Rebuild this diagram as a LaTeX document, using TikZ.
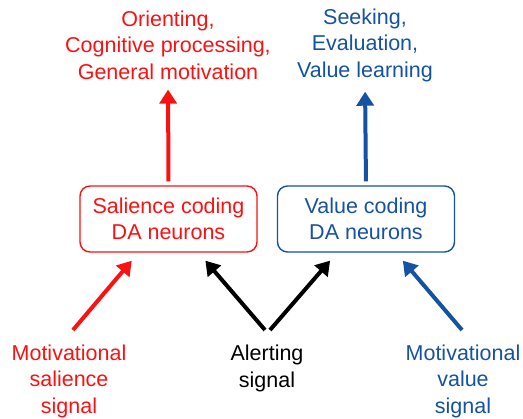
\documentclass[tikz,border=0pt]{standalone}
\usepackage{fontspec}
\setmainfont{Liberation Sans}
\usepackage{tikz}
\usetikzlibrary{arrows.meta, positioning}

\definecolor{salred}{RGB}{250,18,18}
\definecolor{valblue}{RGB}{22,82,162}

\begin{document}
\begin{tikzpicture}[x=1pt, y=-1pt,
  label/.style={align=center, inner sep=0pt,
    font=\fontsize{21.5}{26.5}\selectfont},
  %
  neurons/.style={rectangle, rounded corners=10pt, line width=1.4pt,
    minimum width=177pt, minimum height=66pt, align=center,
    font=\fontsize{21.5}{26.5}\selectfont},
  %
  sig/.style={line width=4pt, -{Triangle[length=14pt, width=17pt]},
    shorten >=10.5pt}
  ]

  \useasboundingbox (0,0) rectangle (523,419);

  \begin{scope}
    % outputs
    \node [label, salred] (salout) at (168,45) {Orienting,\\Cognitive processing,\\General motivation};
    \node [label, valblue] (valout) at (365,45) {Seeking,\\Evaluation,\\Value learning};
    % DA neurons
    \node [neurons, draw=salred, text=salred] (salbox) at (168.5,219) {Salience coding\\DA neurons};
    \node [neurons, draw=valblue, text=valblue] (valbox) at (366,219) {Value coding\\DA neurons};
    % inputs
    \node [label, salred] (salsig) at (69,381) {Motivational\\salience\\signal};
    \node [label] (alsig) at (267,368.5) {Alerting\\signal};
    \node [label, valblue] (valsig) at (463,381) {Motivational\\value\\signal};
    \coordinate (salfrom) at (73,330);
    \coordinate (alfromL) at (265,330);
    \coordinate (alfromR) at (270,330);
    \coordinate (valfrom) at (462,330);
  \end{scope}

  \begin{scope}
    \draw [sig, salred, shorten <=4pt, shorten >=10pt] (salbox.north) -- (salout.south);
    \draw [sig, valblue, shorten <=4pt, shorten >=10pt] (valbox.north) -- (valout.south);
    \draw [sig, salred] (salfrom) -- ([xshift=-30pt]salbox.south);
    \draw [sig, black] (alfromL) -- ([xshift=30pt]salbox.south);
    \draw [sig, black] (alfromR) -- ([xshift=-29pt]valbox.south);
    \draw [sig, valblue] (valfrom) -- ([xshift=30pt]valbox.south);
  \end{scope}

\end{tikzpicture}
\end{document}
